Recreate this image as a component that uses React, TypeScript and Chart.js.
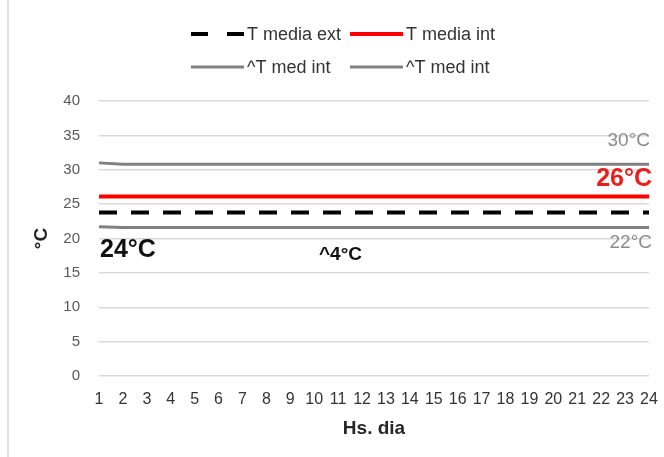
import React, { useEffect, useRef } from "react";
import { Chart, registerables } from "chart.js";

Chart.register(...registerables);

const hours = ["1","2","3","4","5","6","7","8","9","10","11","12","13","14","15","16","17","18","19","20","21","22","23","24"];
const tMediaExt = [23.8,23.8,23.8,23.8,23.8,23.8,23.8,23.8,23.8,23.8,23.8,23.8,23.8,23.8,23.8,23.8,23.8,23.8,23.8,23.8,23.8,23.8,23.8,23.8];
const tMediaInt = [26.1,26.1,26.1,26.1,26.1,26.1,26.1,26.1,26.1,26.1,26.1,26.1,26.1,26.1,26.1,26.1,26.1,26.1,26.1,26.1,26.1,26.1,26.1,26.1];
const tMedIntUpper = [31.0,30.8,30.8,30.8,30.8,30.8,30.8,30.8,30.8,30.8,30.8,30.8,30.8,30.8,30.8,30.8,30.8,30.8,30.8,30.8,30.8,30.8,30.8,30.8];
const tMedIntLower = [21.7,21.6,21.6,21.6,21.6,21.6,21.6,21.6,21.6,21.6,21.6,21.6,21.6,21.6,21.6,21.6,21.6,21.6,21.6,21.6,21.6,21.6,21.6,21.6];
const seriesNames = ["T media ext", "T media int", "^T med int", "^T med int"];
const yTitle = "°C";
const xTitle = "Hs. dia";
const noteExt = "24°C";
const noteDelta = "^4°C";
const noteUpper = "30°C";
const noteInt = "26°C";
const noteLower = "22°C";

const FONT = "'Liberation Sans', Arial, sans-serif";

const decorPlugin = {
  id: "decor",
  beforeDraw(chart: any) {
    const ctx = chart.ctx;
    ctx.save();
    ctx.fillStyle = "#ffffff";
    ctx.fillRect(0, 0, chart.width, chart.height);
    ctx.strokeStyle = "#d9d9d9";
    ctx.lineWidth = 1.5;
    ctx.beginPath();
    ctx.moveTo(8, 0);
    ctx.lineTo(8, chart.height);
    ctx.stroke();
    ctx.restore();
  },
  afterDraw(chart: any) {
    const ctx = chart.ctx;
    const ds = chart.data.datasets;
    ctx.save();
    // legend
    const cols = [191, 350];
    const rows = [34, 67];
    const sampleLen = 53;
    ds.forEach((d: any, i: number) => {
      const x = cols[i % 2];
      const y = rows[Math.floor(i / 2)];
      ctx.strokeStyle = d.borderColor;
      ctx.lineWidth = d.borderWidth;
      ctx.setLineDash(d.borderDash ? [17, 19] : []);
      ctx.beginPath();
      ctx.moveTo(x, y);
      ctx.lineTo(x + sampleLen, y);
      ctx.stroke();
      ctx.setLineDash([]);
      ctx.fillStyle = "#333333";
      ctx.font = `18px ${FONT}`;
      ctx.textBaseline = "middle";
      ctx.textAlign = "left";
      ctx.fillText(d.label, x + sampleLen + 3, y + 1);
    });
    // annotations
    const ys = chart.scales.y;
    const area = chart.chartArea;
    const put = (t: string, x: number, v: number, align: string, font: string, color: string) => {
      ctx.font = font;
      ctx.fillStyle = color;
      ctx.textAlign = align;
      ctx.textBaseline = "middle";
      ctx.fillText(t, x, ys.getPixelForValue(v));
    };
    put(noteExt, area.left + 1, 18.3, "left", `bold 25px ${FONT}`, "#111111");
    put(noteDelta, 319, 17.6, "left", `bold 19px ${FONT}`, "#111111");
    put(noteUpper, area.right + 1, 34.2, "right", `19px ${FONT}`, "#8c8c8c");
    put(noteInt, area.right + 3, 28.65, "right", `bold 25px ${FONT}`, "#ee1c1c");
    put(noteLower, area.right + 3, 19.35, "right", `19px ${FONT}`, "#8c8c8c");
    ctx.restore();
  },
};

export default function App() {
  const ref = useRef<HTMLCanvasElement | null>(null);
  useEffect(() => {
    if (!ref.current) return;
    const chart = new Chart(ref.current, {
      type: "line",
      data: {
        labels: hours,
        datasets: [
          { label: seriesNames[0], data: tMediaExt, borderColor: "#000000", borderWidth: 4, borderDash: [18, 14], pointRadius: 0, fill: false, tension: 0 },
          { label: seriesNames[1], data: tMediaInt, borderColor: "#ff0000", borderWidth: 4, pointRadius: 0, fill: false, tension: 0 },
          { label: seriesNames[2], data: tMedIntUpper, borderColor: "#808080", borderWidth: 3, pointRadius: 0, fill: false, tension: 0 },
          { label: seriesNames[3], data: tMedIntLower, borderColor: "#808080", borderWidth: 3, pointRadius: 0, fill: false, tension: 0 },
        ],
      },
      options: {
        animation: false,
        responsive: false,
        maintainAspectRatio: false,
        layout: { padding: { top: 101, right: 15, left: 0, bottom: 0 } },
        plugins: { legend: { display: false }, tooltip: { enabled: false }, title: { display: false } },
        scales: {
          x: {
            offset: false,
            grid: { display: false, drawTicks: false },
            border: { display: false },
            ticks: { color: "#333333", font: { family: FONT, size: 16 }, autoSkip: false, maxRotation: 0, minRotation: 0, padding: 14 },
            title: { display: true, text: xTitle, color: "#262626", font: { family: FONT, size: 19, weight: "bold" }, padding: { top: 0, bottom: 17 } },
            afterFit: (s: any) => { s.height = 81; s.paddingLeft = 0; s.paddingRight = 0; },
          },
          y: {
            min: 0,
            max: 40,
            grid: { color: "#d9d9d9", lineWidth: 1.5, drawTicks: false },
            border: { display: false },
            ticks: { stepSize: 5, color: "#595959", font: { family: FONT, size: 15 }, padding: 19 },
            title: { display: true, text: yTitle, color: "#262626", font: { family: FONT, size: 19, weight: "bold" }, padding: { top: 30, bottom: 0 } },
            afterFit: (s: any) => { s.width = 99; },
          },
        },
      },
      plugins: [decorPlugin],
    } as any);
    return () => chart.destroy();
  }, []);
  return (
    <div style={{ position: "fixed", left: 0, top: 0, width: 664, height: 457, background: "#fff" }}>
      <canvas ref={ref} width={664} height={457} style={{ width: 664, height: 457, display: "block" }} />
    </div>
  );
}
